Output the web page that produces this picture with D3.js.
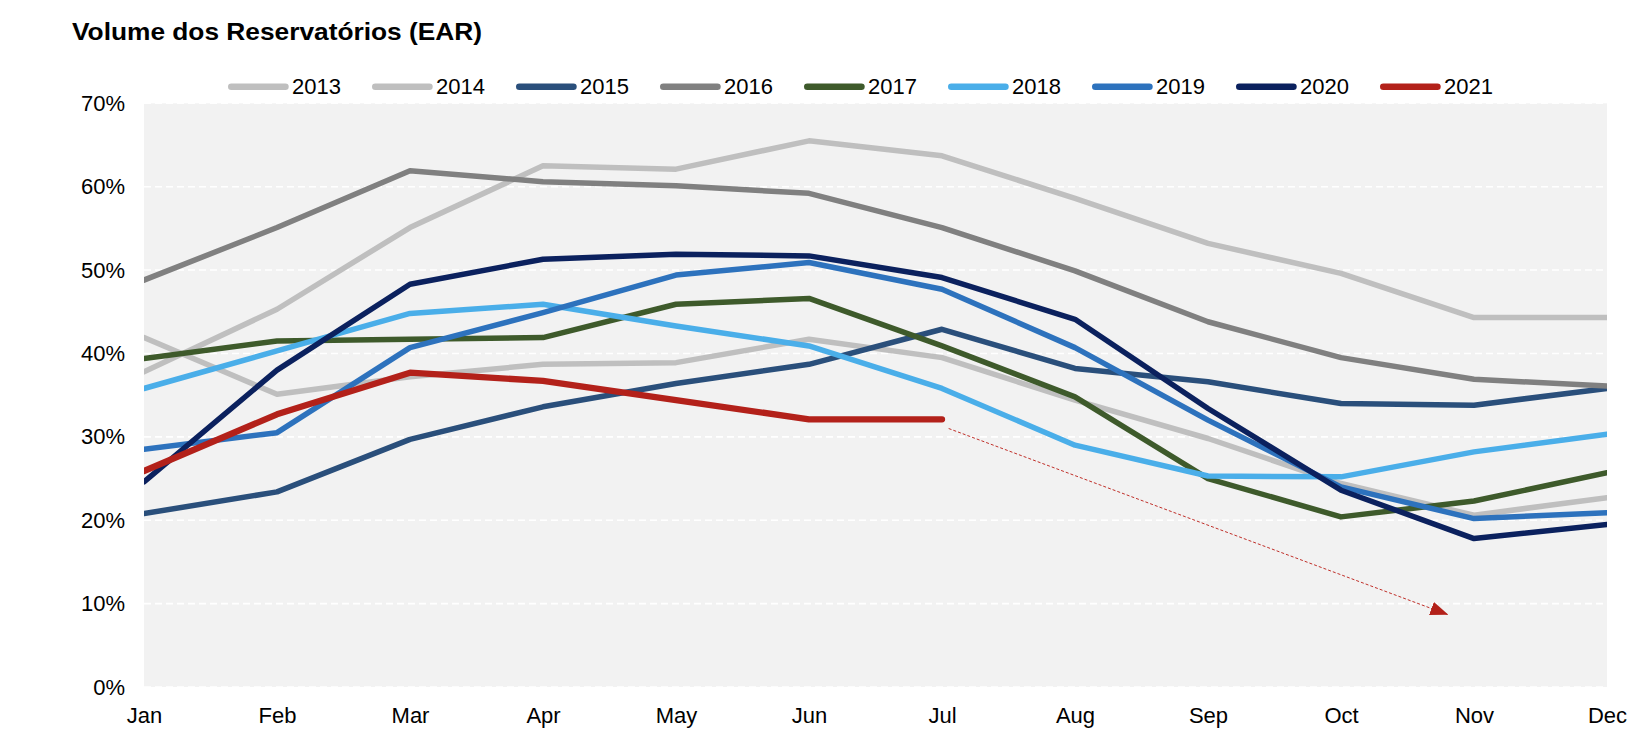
<!DOCTYPE html>
<html>
<head>
<meta charset="utf-8">
<script src="https://cdn.jsdelivr.net/npm/d3@7"></script>
<style>
  html, body { margin: 0; padding: 0; background: #ffffff; }
  svg { display: block; }
  text { font-family: "Liberation Sans", Arial, Helvetica, sans-serif; fill: #000; }
</style>
</head>
<body>
<svg id="chart" width="1650" height="738"></svg>
<script>
// ---------- data ----------
const months = ["Jan","Feb","Mar","Apr","May","Jun","Jul","Aug","Sep","Oct","Nov","Dec"];
const yTicks = [0, 10, 20, 30, 40, 50, 60, 70];
const seriesNames = ["2013","2014","2015","2016","2017","2018","2019","2020","2021"];

const v2013 = [37.8, 45.3, 55.1, 62.5, 62.1, 65.5, 63.7, 58.6, 53.2, 49.6, 44.3, 44.3];
const v2014 = [41.9, 35.1, 37.2, 38.7, 38.9, 41.7, 39.5, 34.4, 29.8, 24.4, 20.6, 22.7];
const v2015 = [20.8, 23.4, 29.7, 33.6, 36.4, 38.7, 42.9, 38.2, 36.6, 34.0, 33.8, 35.8];
const v2016 = [48.8, 55.1, 61.9, 60.6, 60.1, 59.2, 55.1, 49.9, 43.8, 39.5, 36.9, 36.1];
const v2017 = [39.4, 41.5, 41.7, 41.9, 45.9, 46.6, 40.9, 34.8, 25.0, 20.4, 22.3, 25.7];
const v2018 = [35.8, 40.3, 44.8, 45.9, 43.3, 40.9, 35.8, 29.0, 25.3, 25.2, 28.2, 30.3];
const v2019 = [28.5, 30.5, 40.7, 44.9, 49.4, 50.9, 47.7, 40.7, 32.0, 24.0, 20.2, 20.9];
const v2020 = [24.6, 38.0, 48.3, 51.3, 51.9, 51.7, 49.1, 44.1, 33.4, 23.6, 17.8, 19.5];
const v2021 = [25.9, 32.7, 37.7, 36.7, 34.4, 32.1, 32.1];

// trend arrow annotation: [month index, value %]
const arrowFrom = [6.05, 31.0];
const arrowTo = [9.80, 8.7];

const titleText = "Volume dos Reservatórios (EAR)";

// ---------- styles ----------
const colors = {
  "2013": "#bfbfbf", "2014": "#bfbfbf", "2015": "#2a4f7b", "2016": "#808080",
  "2017": "#3e5a2b", "2018": "#4aaee9", "2019": "#2d72bd", "2020": "#0b215e",
  "2021": "#b3211a"
};
const valuesByName = {
  "2013": v2013, "2014": v2014, "2015": v2015, "2016": v2016, "2017": v2017,
  "2018": v2018, "2019": v2019, "2020": v2020, "2021": v2021
};

// ---------- layout ----------
const plot = { left: 144, right: 1607, top: 103.3, bottom: 687 };
const svg = d3.select("#chart");

const x = d3.scalePoint().domain(months).range([plot.left, plot.right]).padding(0);
const xi = d3.scaleLinear().domain([0, months.length - 1]).range([plot.left, plot.right]);
const y = d3.scaleLinear().domain([0, 70]).range([plot.bottom, plot.top]);

// title
svg.append("text")
  .attr("x", 72).attr("y", 39.5)
  .attr("font-size", 24).attr("font-weight", "bold")
  .attr("textLength", 410).attr("lengthAdjust", "spacingAndGlyphs")
  .text(titleText);

// plot background
svg.append("rect")
  .attr("x", plot.left).attr("y", plot.top)
  .attr("width", plot.right - plot.left).attr("height", plot.bottom - plot.top)
  .attr("fill", "#f2f2f2");

// grid lines
svg.append("g").selectAll("line").data(yTicks).join("line")
  .attr("x1", plot.left).attr("x2", plot.right)
  .attr("y1", d => y(d)).attr("y2", d => y(d))
  .attr("stroke", "#ffffff").attr("stroke-width", 1.6)
  .attr("stroke-dasharray", "7,4");

// y axis
const yAxis = svg.append("g")
  .attr("transform", `translate(${plot.left},0)`)
  .call(d3.axisLeft(y).tickValues(yTicks).tickFormat(d => d + "%").tickSize(0).tickPadding(19));
yAxis.select(".domain").remove();
yAxis.selectAll("text").attr("font-size", 22).attr("font-family", "Liberation Sans, Arial, sans-serif").attr("fill", "#000");

// x axis
const xAxis = svg.append("g")
  .attr("transform", `translate(0,${plot.bottom})`)
  .call(d3.axisBottom(x).tickSize(0).tickPadding(20));
xAxis.select(".domain").remove();
xAxis.selectAll("text").attr("font-size", 22).attr("font-family", "Liberation Sans, Arial, sans-serif").attr("fill", "#000");

// clip
svg.append("clipPath").attr("id", "plotclip")
  .append("rect")
  .attr("x", plot.left).attr("y", plot.top - 10)
  .attr("width", plot.right - plot.left).attr("height", plot.bottom - plot.top + 20);

// lines
const line = d3.line()
  .x((d, i) => x(months[i]))
  .y(d => y(d));

const linesG = svg.append("g").attr("clip-path", "url(#plotclip)");
seriesNames.forEach(name => {
  linesG.append("path")
    .datum(valuesByName[name])
    .attr("d", line)
    .attr("fill", "none")
    .attr("stroke", colors[name])
    .attr("stroke-width", name === "2021" ? 6.3 : 5.5)
    .attr("stroke-linejoin", "round")
    .attr("stroke-linecap", "round");
});

// arrow
const defs = svg.append("defs");
defs.append("marker")
  .attr("id", "arrowhead")
  .attr("viewBox", "0 0 18 14")
  .attr("refX", 17).attr("refY", 7)
  .attr("markerWidth", 18).attr("markerHeight", 14)
  .attr("markerUnits", "userSpaceOnUse")
  .attr("orient", "auto")
  .append("path")
  .attr("d", "M0,0 L18,7 L0,14 Z")
  .attr("fill", "#b3211a");

svg.append("line")
  .attr("x1", xi(arrowFrom[0])).attr("y1", y(arrowFrom[1]))
  .attr("x2", xi(arrowTo[0])).attr("y2", y(arrowTo[1]))
  .attr("stroke", "#c0302a").attr("stroke-width", 1)
  .attr("stroke-dasharray", "3,2")
  .attr("marker-end", "url(#arrowhead)");

// legend
const legend = svg.append("g");
const legX0 = 228, legStep = 144, legY = 86.7;
seriesNames.forEach((name, i) => {
  const gx = legX0 + i * legStep;
  legend.append("line")
    .attr("x1", gx + 3.3).attr("x2", gx + 57.4)
    .attr("y1", legY).attr("y2", legY)
    .attr("stroke", colors[name]).attr("stroke-width", 6.6)
    .attr("stroke-linecap", "round");
  legend.append("text")
    .attr("x", gx + 64).attr("y", 93.5)
    .attr("font-size", 22)
    .text(name);
});
</script>
</body>
</html>
